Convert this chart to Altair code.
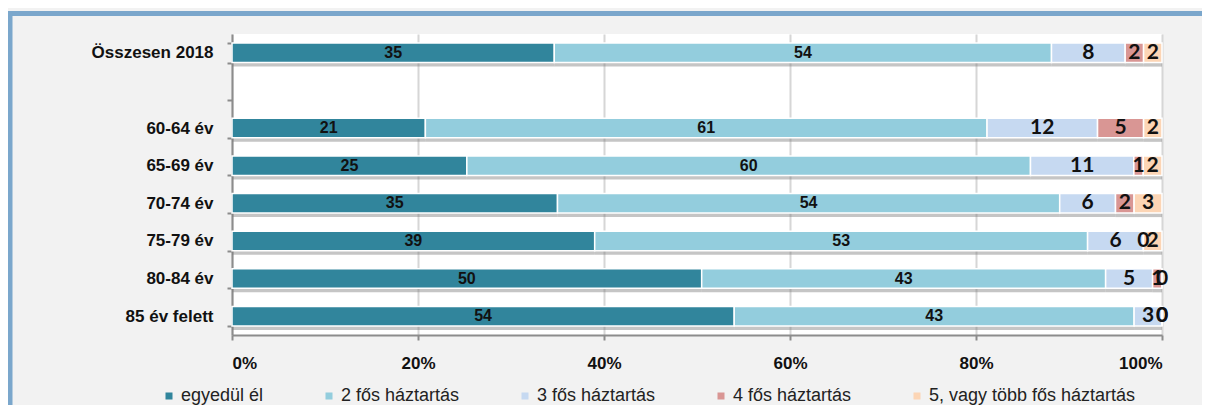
import altair as alt
import pandas as pd

categories = ["Összesen 2018", "60-64 év", "65-69 év", "70-74 év", "75-79 év", "80-84 év", "85 év felett"]
series = ["egyedül él", "2 fős háztartás", "3 fős háztartás", "4 fős háztartás", "5, vagy több fős háztartás"]
egyedul = [35, 21, 25, 35, 39, 50, 54]
ket_fos = [54, 61, 60, 54, 53, 43, 43]
harom_fos = [8, 12, 11, 6, 6, 5, 3]
negy_fos = [2, 5, 1, 2, 0, 1, 0]
ot_fos = [2, 2, 2, 3, 2, 0, 0]
colors = ["#31859c", "#93cddd", "#c6d9f1", "#d99694", "#fcd5b5"]
x_ticks = [0, 0.2, 0.4, 0.6, 0.8, 1.0]

rows = []
for s_i, (name, vals) in enumerate(zip(series, [egyedul, ket_fos, harom_fos, negy_fos, ot_fos])):
    for c, v in zip(categories, vals):
        rows.append({"cat": c, "series": name, "order": s_i, "value": v})
df = pd.DataFrame(rows)

y_domain = [categories[0], " "] + categories[1:]

W, H = 930, 301
PAD = {"left": 224, "top": 26, "right": 40, "bottom": 70}

y_scale = alt.Scale(domain=y_domain, paddingInner=0.48, paddingOuter=0.24)
y_axis = alt.Axis(
    title=None, labelFont="Liberation Sans", labelFontWeight="bold", labelFontSize=17,
    labelColor="#111111", tickBand="extent", ticks=True, tickSize=5, tickColor="#8c8c8c",
    tickWidth=2, domainColor="#8c8c8c", domainWidth=2, labelPadding=14, grid=False,
)
x_scale = alt.Scale(domain=[0, 1], nice=False)
x_axis = alt.Axis(
    title=None, values=x_ticks, format="%", labelFont="Liberation Sans", labelFontWeight="bold",
    labelFontSize=17, labelColor="#111111", tickSize=5, tickColor="#8c8c8c", tickWidth=2,
    domainColor="#8c8c8c", domainWidth=2, labelPadding=15, grid=True, gridColor="#d6d6d6",
    gridWidth=2,
)

base = alt.Chart(df).transform_stack(
    stack="value", groupby=["cat"], as_=["x0", "x1"], offset="normalize",
    sort=[alt.SortField("order", order="ascending")],
).transform_calculate(mid="(datum.x0 + datum.x1) / 2")

one = pd.DataFrame({"a": [0]})
frame_top = alt.Chart(one).mark_rect(color="#7ba7cc").encode(
    x=alt.value(-PAD["left"]), x2=alt.value(W + PAD["right"]),
    y=alt.value(-23), y2=alt.value(-18),
)
frame_left = alt.Chart(one).mark_rect(color="#7ba7cc").encode(
    x=alt.value(-PAD["left"]), x2=alt.value(-PAD["left"] + 4.5),
    y=alt.value(-23), y2=alt.value(H + PAD["bottom"]),
)

shadow = base.mark_bar(color="#7f7f7f", opacity=0.45, yOffset=4).encode(
    y=alt.Y("cat:N", scale=y_scale, axis=y_axis),
    x=alt.X("x0:Q", scale=x_scale, axis=x_axis),
    x2="x1:Q",
)

bars = base.mark_bar(stroke="white", strokeWidth=1.5).encode(
    y=alt.Y("cat:N", scale=y_scale, axis=y_axis),
    x=alt.X("x0:Q", scale=x_scale, axis=x_axis),
    x2="x1:Q",
    color=alt.Color(
        "series:N",
        scale=alt.Scale(domain=series, range=colors),
        legend=alt.Legend(
            title=None, orient="none", direction="horizontal", legendX=-72, legendY=353,
            symbolType="square", symbolSize=49, symbolStrokeWidth=0, labelFont="Liberation Sans",
            labelFontSize=18, labelColor="#222222", labelOffset=3, columnPadding=56,
            padding=0, labelLimit=400,
        ),
        sort=series,
    ),
)

text_small = base.transform_filter("datum.order < 2").mark_text(
    font="Liberation Sans", fontWeight="bold", fontSize=16, color="#111111",
    baseline="middle", align="center",
).encode(
    y=alt.Y("cat:N", scale=y_scale, axis=y_axis),
    x=alt.X("mid:Q", scale=x_scale, axis=x_axis),
    text=alt.Text("value:Q", format="d"),
)

text_big = base.transform_filter("datum.order >= 2").mark_text(
    font="Lato", fontWeight="bold", fontSize=21, color="#111111",
    baseline="middle", align="center",
).encode(
    y=alt.Y("cat:N", scale=y_scale, axis=y_axis),
    x=alt.X("mid:Q", scale=x_scale, axis=x_axis),
    text=alt.Text("value:Q", format="d"),
)

chart = alt.layer(frame_top, frame_left, shadow, bars, text_small, text_big).properties(
    width=W, height=H,
    autosize=alt.AutoSizeParams(type="none"),
    padding=PAD,
    background="#f2f2f2",
).configure_view(fill="white", strokeWidth=0)

chart.save("out.html", embed_options={"renderer": "svg", "actions": False})
